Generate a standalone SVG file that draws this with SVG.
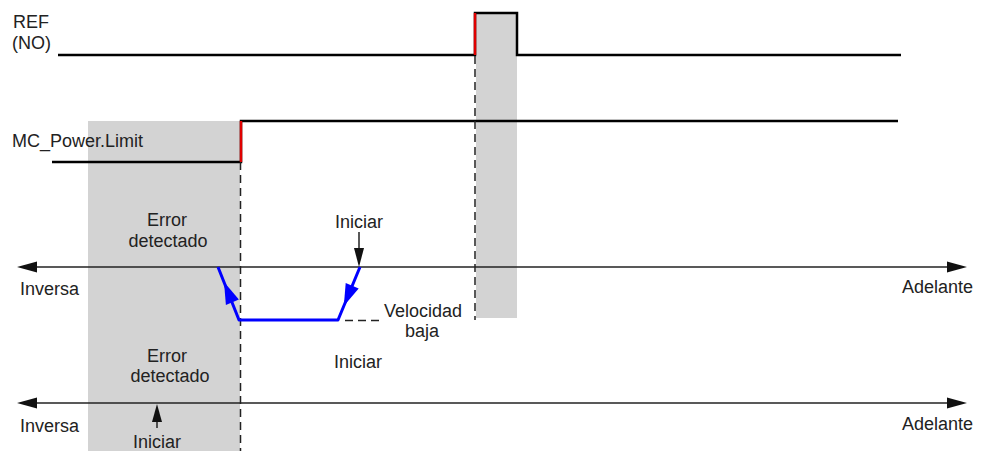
<svg xmlns="http://www.w3.org/2000/svg" width="986" height="451" viewBox="0 0 986 451">
<style>
text{font-family:"Liberation Sans",Arial,sans-serif;font-size:18px;fill:#222}
.c{text-anchor:middle}
.sig{fill:none;stroke:#000;stroke-width:2.5}
.red{fill:none;stroke:#e00000;stroke-width:2.5}
.dash{fill:none;stroke:#222;stroke-width:1.5;stroke-dasharray:8 5}
.axis{fill:none;stroke:#222;stroke-width:1.5}
.blue{fill:none;stroke:#0000ff;stroke-width:3;stroke-linejoin:round}
.shade{fill:#d3d3d3}
</style>
<rect width="986" height="451" fill="#fff"/>
<g id="shade-error"><rect class="shade" x="88" y="121" width="152" height="330"/></g>
<g id="shade-ref"><rect class="shade" x="476" y="13" width="41" height="305"/></g>
<g id="ref-signal">
<text x="13" y="28">REF</text>
<text x="12" y="49">(NO)</text>
<path class="sig" d="M58 55H475V13H517V55H901"/>
<path class="red" d="M475 55V13"/>
</g>
<g id="mc-power-limit">
<text x="12" y="147">MC_Power.Limit</text>
<path class="sig" d="M52 162H241V121H898"/>
<path class="red" d="M241 162V121"/>
</g>
<g id="axis-1">
<path class="axis" d="M35 267H949"/>
<polygon points="17,267 37,261.5 37,272.5" fill="#111"/>
<polygon points="967,267 947,261.5 947,272.5" fill="#111"/>
<text x="20" y="295">Inversa</text>
<text x="902" y="293">Adelante</text>
</g>
<g id="axis-2">
<path class="axis" d="M35 403H949"/>
<polygon points="17,403 37,397.5 37,408.5" fill="#111"/>
<polygon points="967,403 947,397.5 947,408.5" fill="#111"/>
<text x="20" y="432">Inversa</text>
<text x="902" y="430">Adelante</text>
</g>
<g id="error-1"><text class="c" x="167" y="226">Error</text><text class="c" x="168" y="247">detectado</text></g>
<g id="error-2"><text class="c" x="167" y="362">Error</text><text class="c" x="170" y="382">detectado</text></g>
<g id="iniciar-top"><text class="c" x="359" y="228">Iniciar</text></g>
<g id="iniciar-mid"><text class="c" x="358" y="368">Iniciar</text></g>
<g id="iniciar-bottom"><text class="c" x="157" y="448">Iniciar</text></g>
<g id="velocidad-baja"><text class="c" x="423" y="317">Velocidad</text><text class="c" x="422" y="337">baja</text></g>
<g id="connectors">
<path class="dash" d="M240.5 162V451"/>
<path class="dash" d="M475 56V320"/>
<path class="dash" d="M345 320.5H380"/>
<path class="blue" d="M360 267L338 320H239L218 267"/>
<polygon points="224,282 238.9,299.6 225.9,305" fill="#0000ff"/>
<polygon points="343.8,306 358.7,288.4 345.7,283" fill="#0000ff"/>
<path class="axis" d="M359 232V252"/>
<polygon points="359,267 354,248 364,248" fill="#111"/>
<path class="axis" d="M157 428V418"/>
<polygon points="157,404 152,422 162,422" fill="#111"/>
</g>
</svg>
